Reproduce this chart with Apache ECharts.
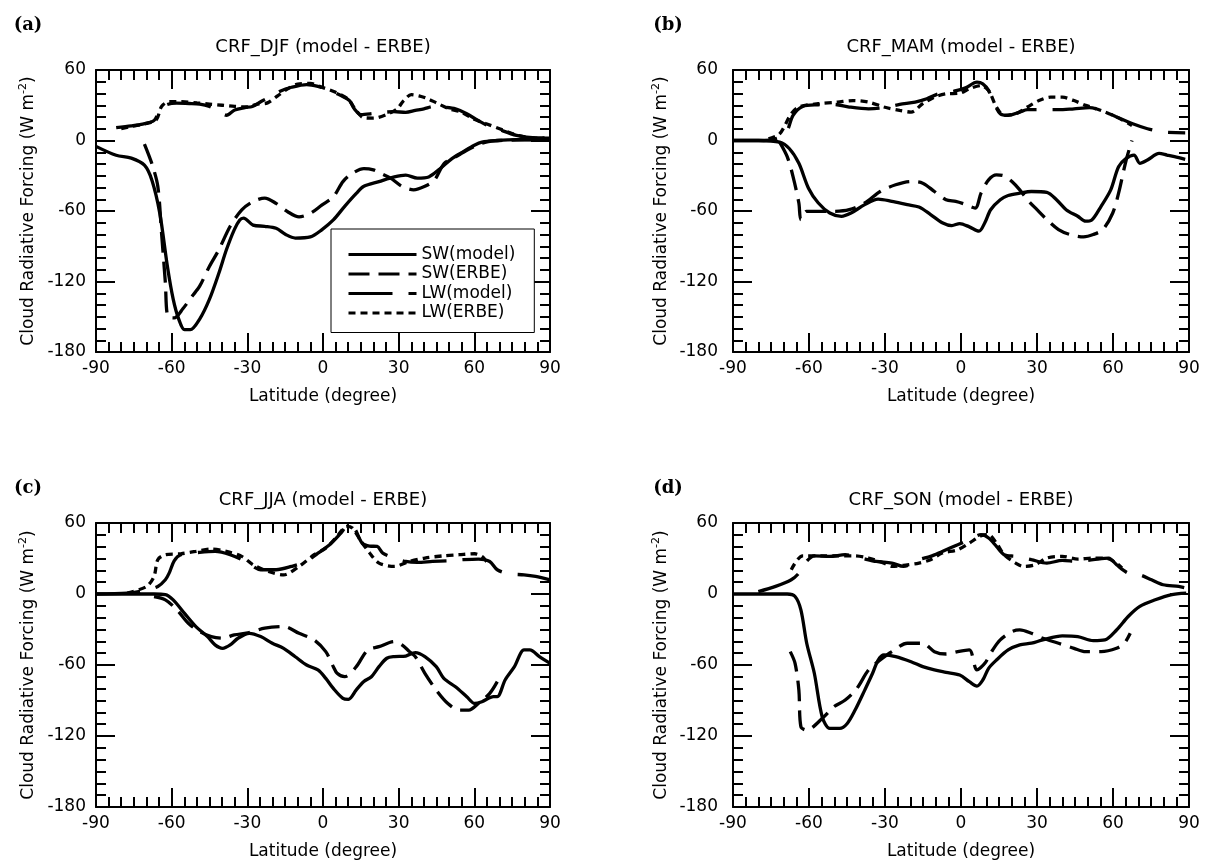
<!DOCTYPE html>
<html>
<head>
<meta charset="utf-8">
<script src="https://cdn.jsdelivr.net/npm/echarts/dist/echarts.min.js"></script>
<style>
  html, body { margin: 0; padding: 0; background: #fff; }
  #main { width: 1206px; height: 860px; }
</style>
</head>
<body>
<div id="main"></div>
<script>
  // latitude ticks / value ticks
  var latTicks = [-90, -60, -30, 0, 30, 60, 90]
  var crfTicks = [-180, -120, -60, 0, 60]
  var seriesNames = ['SW(model)', 'SW(ERBE)', 'LW(model)', 'LW(ERBE)']
  var panelTitles = ['CRF_DJF (model - ERBE)', 'CRF_MAM (model - ERBE)', 'CRF_JJA (model - ERBE)', 'CRF_SON (model - ERBE)']
  var panelLabels = ['(a)', '(b)', '(c)', '(d)']

  // (a) DJF  [latitude, W m-2]
  var djfSwModel = [[-90, -5], [-82, -12.6], [-76, -15], [-70.8, -21], [-67.8, -34], [-64.7, -62], [-61.7, -107], [-59.4, -135], [-57.2, -152], [-54.9, -161], [-52.6, -161], [-48.9, -152], [-45, -135], [-41.3, -113], [-38.3, -93], [-35.2, -76], [-33, -67.6], [-31.5, -66], [-27.7, -72], [-23.1, -73], [-18.6, -74.7], [-14.8, -80], [-11, -83], [-5, -82], [-0.5, -76], [4.1, -67.6], [8.6, -56], [13.2, -45], [16.2, -39], [22.2, -35], [28.3, -31], [32.8, -29.5], [37.4, -32], [41.9, -31], [46.4, -24], [51, -15.6], [55.5, -9.7], [60, -4], [63, -1.3], [69, 0], [76.7, 0.7], [90, 0.7]]
  var djfSwErbe = [[-70.8, -3], [-67.8, -20], [-65.5, -39], [-64, -79], [-62.5, -121], [-61.5, -150], [-59, -151], [-55.5, -143], [-51.9, -132.6], [-48.9, -124], [-45, -107], [-41.3, -93], [-36.8, -73], [-32.2, -59], [-27.7, -52], [-23.1, -49], [-18.6, -53.5], [-14, -60.6], [-9.5, -65], [-5, -62], [-0.5, -55], [4.1, -48], [7.9, -35], [11.6, -28], [16.2, -24], [20, -25], [23, -28], [26.8, -32], [31.3, -39], [35.9, -42], [40.4, -39], [44.2, -33.7], [48, -19.6], [52.5, -14], [57, -8.3], [60, -5], [64.6, -1.3], [70, 0], [80, 0.5], [88, 0.5]]
  var djfLwModel = [[-82, 11], [-76, 12.5], [-71.5, 14], [-67, 17], [-65, 24], [-62.5, 30], [-58, 31.8], [-53, 31.5], [-48.9, 31], [-45, 29], [-41.5, 25], [-38.3, 21.5], [-35, 26], [-31, 28], [-28, 29], [-24.7, 33], [-21, 37], [-17, 42], [-12.5, 45.3], [-6.5, 47.6], [-2, 46], [2.6, 42.5], [7.1, 38.3], [10.5, 34], [12.4, 27], [15, 22], [20, 23], [24, 24], [28, 24.5], [32.8, 24], [36.6, 25.6], [40, 27], [44, 29], [48, 28.4], [52.5, 27], [57, 22.7], [61.5, 17], [65, 13], [69, 10], [76.7, 4.4], [84.3, 2.3], [90, 2.3]]
  var djfLwErbe = [[-80, 10], [-76, 12], [-70, 14.5], [-66, 18], [-64, 29], [-61, 33], [-56, 33], [-50, 32], [-45, 31], [-40, 30], [-35, 29], [-30, 28.5], [-26, 31], [-22, 32], [-18, 38], [-14, 44], [-10, 48], [-5, 48.5], [0, 45], [5, 41], [10, 35], [13, 26], [16, 19.5], [20, 19], [25, 22], [29.4, 27], [32, 34], [35, 39], [38, 38], [41, 36], [45, 32], [50, 27], [55, 24], [60, 18], [65, 14], [70, 10], [75, 6], [80, 3], [85, 2], [90, 2]]

  // (b) MAM
  var mamSwModel = [[-90, 0], [-80, 0], [-71.6, -1.4], [-67.8, -6.8], [-64, -19.4], [-60.2, -40.6], [-56.4, -53], [-51.8, -61.7], [-47.2, -64.5], [-43.4, -61.7], [-38, -54.6], [-32.7, -49.9], [-27.3, -51.8], [-21.2, -54.6], [-16.6, -56.6], [-12, -63], [-7.4, -70], [-3.6, -72.4], [-0.5, -70.7], [3.3, -73.5], [7.1, -77.2], [9.4, -70], [11.7, -58.9], [15.5, -50.4], [18.6, -46.8], [23.2, -44.8], [27.8, -43.4], [33.9, -44.2], [37.7, -50.4], [41.5, -58.9], [46.1, -64.5], [49.2, -68.7], [51.5, -67.9], [55.3, -56], [59.1, -42], [62.2, -22.3], [65.2, -15.2], [68.3, -12.4], [70.6, -19.4], [73.6, -16.6], [78.2, -11], [81.3, -12.4], [84.3, -13.8], [88.5, -16]]
  var mamSwErbe = [[-71.6, -1.4], [-68.6, -13.8], [-66.3, -30.7], [-64, -53.2], [-63.2, -67.3], [-61, -60.3], [-54.8, -60.3], [-50.2, -60.3], [-44.1, -58.9], [-38, -53.2], [-31.9, -43.4], [-25.8, -37.7], [-19.7, -34.9], [-15.1, -36.3], [-10.5, -43.4], [-5.9, -50.4], [-2.1, -51.8], [1, -53.8], [5.6, -57.5], [7.9, -44.8], [10.9, -33.5], [14, -29.3], [17, -30.1], [20.1, -34.9], [23.2, -42], [26.2, -50.4], [30, -58.9], [33.9, -67.3], [38.5, -75.8], [43, -80], [48.4, -82], [52.2, -80], [56, -75.8], [59.9, -61.7], [62.2, -44.8], [65.2, -16.6], [67.5, 0]]
  var mamLwModel = [[-90, 0], [-77.8, 0], [-71.6, 2.8], [-68.6, 8.5], [-66.3, 21.4], [-62.5, 29], [-56.4, 30.4], [-50.2, 30.7], [-44.1, 28.5], [-36.5, 27], [-30.4, 27.9], [-24.2, 30.7], [-18.1, 32.7], [-13.5, 35.5], [-9, 39.7], [-2.8, 42], [1.8, 44.8], [6.3, 49.6], [8.6, 48.2], [10.9, 42.5], [13, 32], [15.5, 22.8], [18.6, 21.4], [23.2, 24.2], [26.2, 26.2], [32.3, 26.2], [38.5, 26.2], [44.6, 27], [50.7, 27.9], [55.3, 25.6], [61.4, 20], [67.5, 14.4], [73.6, 10], [79.7, 7.3], [88.5, 6.5]]
  var mamLwErbe = [[-76, 1.4], [-71.6, 5.6], [-67, 22.8], [-64, 28.5], [-56.4, 31.3], [-48.7, 32.7], [-42.6, 34], [-36.5, 32.7], [-30.4, 28.5], [-24.2, 25.6], [-19.7, 24.2], [-15.1, 31.3], [-10.5, 36.9], [-5.9, 39.7], [-0.5, 40.3], [3.3, 44], [7.9, 46.8], [10.9, 42.5], [14, 28.5], [17, 21.4], [21.6, 22.8], [26.2, 28.5], [30.8, 34], [35.4, 36.9], [40, 36.9], [44.6, 34], [49.2, 29.9], [55.3, 25.6], [61.4, 20], [67.5, 12.8]]

  // (c) JJA
  var jjaSwModel = [[-90, 0], [-67, 0], [-62.5, -0.5], [-59.4, -5], [-54.9, -16.4], [-50.4, -27.5], [-45.8, -36], [-42.8, -43], [-39.8, -45.9], [-36.8, -43], [-33.7, -37.4], [-29.2, -33.2], [-24.7, -36], [-20.1, -41.6], [-15.6, -45.9], [-11, -53], [-6.5, -60], [-2, -64.2], [1.1, -71.3], [4.1, -79.8], [7.9, -88.2], [10.1, -89], [13.2, -81], [16.2, -74], [19.2, -69.9], [22.2, -61.4], [25.3, -54.3], [28.3, -52.9], [32.8, -52.4], [36.6, -49.5], [40.4, -52.9], [44.9, -61.4], [47.9, -71.3], [52.5, -78.4], [57, -86.8], [60.1, -92.5], [63, -91], [67.6, -86.8], [69.1, -86.8], [72.2, -72.7], [75.9, -61.4], [79.7, -47.3], [82, -47.3], [85.8, -52.9], [90, -58.6]]
  var jjaSwErbe = [[-67, -2.3], [-62.5, -5], [-57.9, -13.4], [-53.4, -24.7], [-48.9, -31.8], [-44.3, -36], [-39.8, -37.4], [-35.2, -34.6], [-29.2, -32.6], [-23.1, -28.9], [-15.6, -27.5], [-9.5, -33.2], [-3.5, -38.8], [1.1, -48.7], [4.1, -61.4], [5.6, -67], [8.6, -69.9], [13.2, -61.4], [17.7, -47.3], [22.2, -44.5], [28.3, -40.2], [31.3, -43], [34.3, -48.7], [36.6, -52.9], [40.4, -67], [44.9, -81.2], [49.5, -92.5], [54, -98.1], [57.8, -98.1], [61.6, -92.5], [66.1, -84], [69.1, -74.1]]
  var jjaLwModel = [[-90, 0], [-77.6, 0.7], [-70, 3.4], [-65.5, 6.3], [-62.5, 12], [-61, 17.6], [-59, 28], [-56.4, 33.2], [-48.9, 35.2], [-42.8, 36], [-36.8, 33.2], [-30.7, 27.5], [-24.7, 20.5], [-18.6, 20.5], [-12.5, 23.3], [-6.5, 27.5], [-2, 34.6], [2.6, 41.6], [7.1, 51.5], [10.1, 58.6], [12.4, 55.8], [15.5, 43], [18.5, 40.5], [21.5, 40.2], [23.7, 34.6], [28.3, 30.4], [32.8, 27.5], [37.4, 26.7], [43.4, 27.5], [49.5, 28.1], [55.5, 29], [61.6, 29.5], [66.1, 27.5], [69.1, 20.5], [73.7, 17.1], [79.7, 16.2], [84.3, 14.8], [90, 12]]
  var jjaLwErbe = [[-77.6, 0.7], [-70, 6.3], [-67, 14.8], [-65.5, 29], [-62.5, 33.2], [-56.4, 34], [-50.4, 36], [-44.3, 38], [-38.3, 36], [-32.2, 31.8], [-27.7, 24.7], [-21.6, 19], [-15.6, 16.2], [-9.5, 23.3], [-3.5, 33.2], [1.1, 38.8], [5.6, 48.7], [9.4, 57.2], [11.6, 55.8], [14.7, 45.9], [18.5, 34.6], [22.2, 26.1], [28.3, 23.3], [34.3, 27.5], [40.4, 30.4], [47.9, 32.3], [54, 33.2], [60.1, 34], [63, 31.8], [65, 27]]

  // (d) SON
  var sonSwModel = [[-90, 0], [-68.6, 0], [-65.5, -2.1], [-63.2, -13.4], [-60.9, -41.6], [-57.9, -67], [-54.8, -103.7], [-51.8, -113.6], [-47.9, -113.6], [-44.9, -109.4], [-41.8, -98.1], [-38, -81.2], [-34.9, -67], [-32.7, -55.8], [-30.4, -51.5], [-25.8, -52.9], [-19.7, -57.2], [-15.1, -61.4], [-10.5, -64.2], [-5.9, -66.2], [-0.5, -68.5], [3.3, -74.1], [6.3, -77.8], [8.6, -72.7], [10.9, -62.8], [14, -55.8], [18.6, -47.3], [23.2, -43], [27.8, -41.6], [32.3, -38.8], [40, -35.4], [46.1, -36], [52.2, -39.4], [56.8, -38.8], [61.4, -30.4], [66, -19], [70.6, -10.5], [76.7, -4.9], [82.8, -0.7], [88.9, 0.7]]
  var sonSwErbe = [[-67.4, -48.7], [-65.5, -58.6], [-64, -81.2], [-63.2, -112.2], [-61, -115], [-54.1, -103.7], [-50.2, -95.3], [-45.7, -89.6], [-41.1, -79.8], [-36.5, -64.2], [-31.9, -55.8], [-27.3, -48.7], [-21.2, -41.6], [-15.1, -41.6], [-10.5, -48.7], [-5.9, -50.7], [-1.3, -48.7], [3.3, -47.3], [6.3, -64.2], [9.4, -58.6], [12.5, -47.3], [15.5, -38.8], [20.1, -31.8], [23.2, -30.4], [27.8, -33.2], [32.3, -37.4], [38.5, -41.6], [44.6, -45.9], [49.2, -48.7], [55.3, -48.7], [61.4, -45.9], [64.5, -41.6], [66.8, -33.2]]
  var sonLwModel = [[-80, 2], [-73.2, 6.4], [-67, 12], [-64, 17.6], [-61, 27.5], [-57.9, 32.3], [-51.8, 31.8], [-45.7, 33.2], [-39.5, 30.4], [-33.4, 27.5], [-27.3, 26.1], [-22.7, 23.3], [-16.6, 29], [-12, 31.8], [-7.4, 36], [-1.3, 41.6], [3.3, 45.9], [7.9, 50.1], [10.9, 47.3], [14, 40.2], [17, 33.2], [21.6, 31.8], [27.8, 29], [33.9, 26.1], [40, 28.4], [46.1, 27.5], [52.2, 29], [58.3, 30.4], [61.4, 24.7], [66, 17.6], [70.6, 16.2], [75.2, 12], [79.8, 7.8], [85.9, 6.4], [89, 5]]
  var sonLwErbe = [[-67, 20.5], [-62.5, 32.3], [-54.8, 32.3], [-48.7, 32.3], [-42.6, 32.3], [-36.5, 30.4], [-30.4, 26.1], [-27.3, 23.3], [-21.2, 24.7], [-16.6, 26.1], [-12, 29], [-7.4, 34.6], [-1.3, 37.4], [3.3, 43], [7.9, 49.3], [10.9, 50.1], [14, 43], [17, 33.2], [21.6, 26.1], [24.7, 23.3], [29.3, 24.7], [33.9, 30.4], [40, 31.8], [46.1, 29.5], [52.2, 30.4], [56.8, 30.4], [61.4, 26.1], [63.5, 22]]

  var panelData = [
    [djfSwModel, djfSwErbe, djfLwModel, djfLwErbe],
    [mamSwModel, mamSwErbe, mamLwModel, mamLwErbe],
    [jjaSwModel, jjaSwErbe, jjaLwModel, jjaLwErbe],
    [sonSwModel, sonSwErbe, sonLwModel, sonLwErbe]
  ]

  var FONT = '"DejaVu Sans", sans-serif'
  var lineTypes = ['solid', [21, 9], [44, 16], [7, 5]] // SW(model), SW(ERBE), LW(model), LW(ERBE)

  var grids = [
    { left: 96, top: 70, width: 454, height: 282 },
    { left: 733, top: 70, width: 456, height: 282 },
    { left: 96, top: 523, width: 454, height: 284 },
    { left: 733, top: 523, width: 456, height: 284 }
  ]

  var frameLine = { color: '#000', width: 2 }

  function makeAxis (gridIndex, pos, isX, showLabel, labelMargin) {
    var ax = {
      type: 'value',
      gridIndex: gridIndex,
      position: pos,
      min: isX ? latTicks[0] : crfTicks[0],
      max: isX ? latTicks[latTicks.length - 1] : crfTicks[crfTicks.length - 1],
      interval: isX ? 30 : 60,
      axisLine: { show: true, onZero: false, lineStyle: frameLine },
      axisTick: { show: true, inside: true, length: 19, lineStyle: frameLine },
      minorTick: { show: true, splitNumber: 6, length: 10, lineStyle: frameLine },
      splitLine: { show: false },
      minorSplitLine: { show: false },
      axisLabel: {
        show: showLabel,
        margin: labelMargin,
        color: '#000',
        fontSize: 17,
        fontFamily: FONT
      }
    }
    return ax
  }

  var xAxes = []
  var yAxes = []
  var series = []
  var graphics = []

  for (var i = 0; i < 4; i++) {
    var right = i % 2 === 1
    var bx = makeAxis(i, 'bottom', true, true, 8)
    bx.name = 'Latitude (degree)'
    bx.nameLocation = 'middle'
    bx.nameGap = 36
    bx.nameTextStyle = { color: '#000', fontSize: 17, fontFamily: FONT }
    xAxes.push(bx)
    xAxes.push(makeAxis(i, 'top', true, false, 8))

    var ly = makeAxis(i, 'left', false, true, right ? 15 : 10)
    ly.name = 'Cloud Radiative Forcing (W m{sup|-2})'
    ly.nameLocation = 'middle'
    ly.nameGap = right ? 60 : 56
    ly.nameTextStyle = {
      color: '#000',
      fontSize: 17,
      fontFamily: FONT,
      lineHeight: 22,
      rich: {
        sup: { fontSize: 11, fontFamily: FONT, color: '#000', verticalAlign: 'top', lineHeight: 11 }
      }
    }
    yAxes.push(ly)
    yAxes.push(makeAxis(i, 'right', false, false, 10))

    for (var s = 0; s < 4; s++) {
      series.push({
        name: seriesNames[s],
        type: 'line',
        xAxisIndex: 2 * i,
        yAxisIndex: 2 * i,
        data: panelData[i][s],
        smooth: 0.3,
        symbol: 'none',
        showSymbol: false,
        lineStyle: { color: '#000', width: 3.3, type: lineTypes[s] },
        itemStyle: { color: '#000' },
        z: 3
      })
    }

    var g = grids[i]
    graphics.push({
      type: 'text',
      x: g.left + g.width / 2,
      y: g.top - 23,
      style: {
        text: panelTitles[i],
        fill: '#000',
        font: '18px ' + FONT,
        textAlign: 'center',
        textVerticalAlign: 'middle',
        align: 'center',
        verticalAlign: 'middle'
      }
    })
    graphics.push({
      type: 'text',
      x: right ? 668 : 28,
      y: i < 2 ? 25 : 488,
      style: {
        text: panelLabels[i],
        fill: '#000',
        font: 'bold 18px "DejaVu Serif", serif',
        textAlign: 'center',
        textVerticalAlign: 'middle',
        align: 'center',
        verticalAlign: 'middle'
      }
    })
  }

  var chart = echarts.init(document.getElementById('main'), null, { renderer: 'canvas' })
  chart.setOption({
    backgroundColor: '#fff',
    animation: false,
    grid: grids.map(function (g) {
      return Object.assign({ containLabel: false, outerBoundsMode: 'none' }, g)
    }),
    xAxis: xAxes,
    yAxis: yAxes,
    legend: {
      data: seriesNames,
      orient: 'vertical',
      left: 331,
      top: 229,
      backgroundColor: '#fff',
      borderColor: '#000',
      borderWidth: 1,
      borderRadius: 0,
      padding: [17, 19, 11, 16],
      itemWidth: 68,
      itemHeight: 14,
      itemGap: 2.5,
      selectedMode: false,
      itemStyle: { opacity: 0 },
      lineStyle: { width: 3 },
      textStyle: { color: '#000', fontSize: 17, fontFamily: FONT, lineHeight: 17 },
      z: 10
    },
    graphic: graphics,
    series: series
  })
</script>
</body>
</html>
